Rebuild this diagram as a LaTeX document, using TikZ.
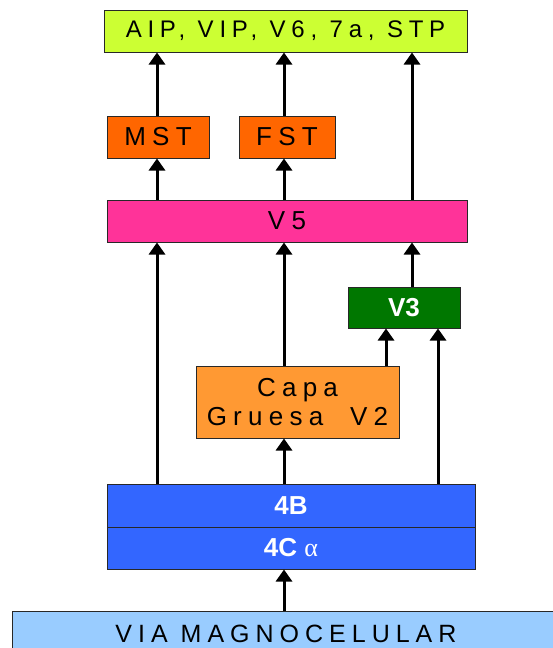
\documentclass[tikz,border=0pt]{standalone}
\usepackage{fontspec}
\setmainfont{Liberation Sans}
\newfontfamily\spaced[LetterSpace=24]{Liberation Sans}
\newfontfamily\serifalpha{Liberation Serif}
\usetikzlibrary{arrows.meta}
\definecolor{topc}{RGB}{204,255,51}
\definecolor{orangec}{RGB}{255,102,0}
\definecolor{pinkc}{RGB}{255,51,153}
\definecolor{greenc}{RGB}{0,119,0}
\definecolor{lorange}{RGB}{255,153,51}
\definecolor{bluec}{RGB}{51,102,255}
\definecolor{lblue}{RGB}{153,204,255}
\definecolor{edgec}{RGB}{40,40,40}
\begin{document}
\begin{tikzpicture}[x=1pt,y=-1pt,
  box/.style={draw=edgec,line width=1pt,inner sep=0pt,align=center,
    font=\spaced\fontsize{26}{29}\selectfont},
  boldbox/.style={draw=edgec,line width=1pt,inner sep=0pt,align=center,text=white,
    font=\bfseries\fontsize{26}{29}\selectfont},
  arr/.style={line width=3pt,-{Triangle[width=16pt,length=12pt]}}]
\useasboundingbox (0,0) rectangle (552,648);
\node[box,fill=topc,minimum width=363pt,minimum height=42pt,
  font=\spaced\fontsize{24}{26}\selectfont] (top) at (285.5,31) {AIP, VIP, V6, 7a, STP};
\node[box,fill=orangec,minimum width=102pt,minimum height=42pt] (mst) at (158,137) {MST};
\node[box,fill=orangec,minimum width=96pt,minimum height=42pt] (fst) at (287,137) {FST};
\node[box,fill=pinkc,minimum width=360pt,minimum height=42pt] (v5) at (287,221) {V5};
\node[boldbox,fill=greenc,minimum width=112pt,minimum height=41pt] (v3) at (404,307.5) {V3};
\node[box,fill=lorange,minimum width=203pt,minimum height=72pt] (v2) at (297.5,402) {Capa\\Gruesa\ \ V2};
\node[boldbox,fill=bluec,minimum width=368pt,minimum height=43pt] (b4) at (291,505.5) {4B};
\node[boldbox,fill=bluec,minimum width=368pt,minimum height=42pt] (c4) at (291,548) {4C {\mdseries\serifalpha α}};
\node[box,fill=lblue,minimum width=548pt,anchor=north,text height=31pt,text depth=20pt,
  font=\spaced\fontsize{25}{28}\selectfont] (via) at (286,611) {VIA MAGNOCELULAR};
\coordinate (xa) at (157,0);
\coordinate (xb) at (284,0);
\coordinate (xc) at (412,0);
\coordinate (xd) at (386,0);
\coordinate (xe) at (438,0);
\draw[arr] (mst.north -| xa) -- (top.south -| xa);
\draw[arr] (fst.north -| xb) -- (top.south -| xb);
\draw[arr] (v5.north -| xc) -- (top.south -| xc);
\draw[arr] (v5.north -| xa) -- (mst.south -| xa);
\draw[arr] (v5.north -| xb) -- (fst.south -| xb);
\draw[arr] (b4.north -| xa) -- (v5.south -| xa);
\draw[arr] (v2.north -| xb) -- (v5.south -| xb);
\draw[arr] (v3.north -| xc) -- (v5.south -| xc);
\draw[arr] (v2.north -| xd) -- (v3.south -| xd);
\draw[arr] (b4.north -| xe) -- (v3.south -| xe);
\draw[arr] (b4.north -| xb) -- (v2.south -| xb);
\draw[arr] (via.north -| xb) -- (c4.south -| xb);
\end{tikzpicture}
\end{document}
